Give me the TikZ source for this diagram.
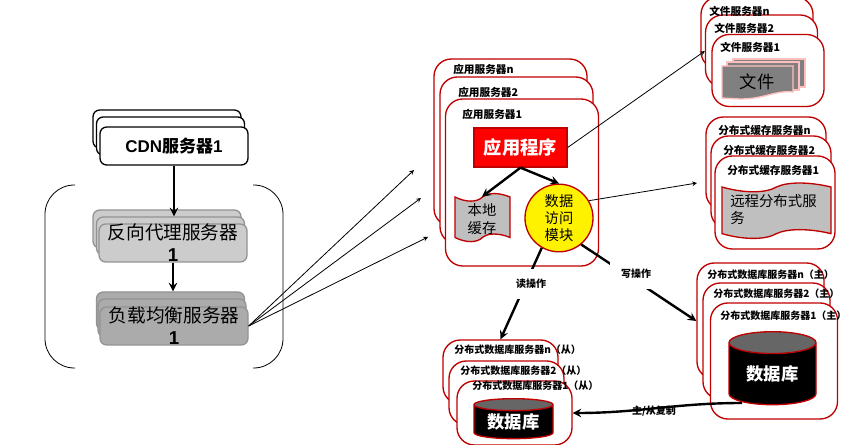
\documentclass[tikz,border=0pt]{standalone}
\usepackage{fontspec}
\setmainfont{Noto Sans CJK SC}
\newfontfamily\latinfont{Liberation Sans}
\usetikzlibrary{shapes.geometric}
\definecolor{srvred}{HTML}{C00000}
\tikzset{
  boxsize/.style 2 args={minimum width=#1*0.75pt,minimum height=#2*0.75pt,inner sep=0pt},
  cdnbox/.style={draw=black,line width=1pt,fill=white,rounded corners=5pt,boxsize={148}{38}},
  proxybox/.style={draw=gray!85,line width=1pt,fill=black!20,rounded corners=5pt,boxsize={148}{38},align=center,font=\fontsize{14}{16.5}\selectfont},
  lbbox/.style={draw=gray!85,line width=1pt,fill=black!33,rounded corners=5pt,boxsize={148}{38},align=center,font=\fontsize{14}{16.5}\selectfont},
  srvbox/.style={draw=srvred,line width=1pt,fill=white,rounded corners=13pt},
  srvlabel/.style={anchor=west,inner sep=0pt,font=\bfseries\fontsize{8}{9}\selectfont},
  dblabel/.style={anchor=west,inner sep=0pt,font=\bfseries\fontsize{7.5}{9}\selectfont},
  oplabel/.style={fill=white,inner sep=8pt,font=\bfseries\fontsize{7.5}{9}\selectfont},
  dbcyl/.style={cylinder,shape border rotate=90,draw=srvred,line width=1pt,cylinder uses custom fill,
    cylinder body fill=black,cylinder end fill=black!60,text=white,inner sep=0pt,font=\bfseries\fontsize{13}{15}\selectfont},
  bigarrow/.style={-stealth,line width=1.8pt},
  thinarrow/.style={-stealth,line width=0.6pt},
}
\newcommand{\wavepath}[5]{\draw[#1,shift={(#2,#3)},xscale=#4,yscale=#5] (0,0) .. controls (.2,.12) and (.4,.12) .. (.5,0) .. controls (.6,-.1) and (.8,-.1) .. (1,0) -- (1,.88) .. controls (.8,.78) and (.6,.78) .. (.5,.88) .. controls (.4,1) and (.2,1) .. (0,.88) -- cycle;}
\begin{document}
\begin{tikzpicture}[x=0.75pt,y=-0.75pt]
  \useasboundingbox (0,0) rectangle (865,445);
  % left part
  \draw[line width=0.6pt,rounded corners=22pt] (75,185) -- (45,185) -- (45,368) -- (75,368);
  \draw[line width=0.6pt,rounded corners=22pt] (253,185) -- (283,185) -- (283,368) -- (253,368);
  \foreach \nm/\cx/\cy in {cdnB/167/129,cdnM/170.5/136}
    \node (\nm) [cdnbox] at (\cx,\cy) {};
  \node (cdnF) [cdnbox,font=\bfseries\fontsize{12.75}{15}\selectfont] at (174,146) {{\latinfont CDN}服务器{\latinfont 1}};
  \foreach \nm/\cx/\cy in {proxyB/167/229,proxyM/170.5/236}
    \node (\nm) [proxybox] at (\cx,\cy) {};
  \node (proxyF) [proxybox] at (173,243) {反向代理服务器\\{\latinfont\bfseries 1}};
  \foreach \nm/\cx/\cy in {lbB/170.5/311,lbM/172/318}
    \node (\nm) [lbbox] at (\cx,\cy) {};
  \node (lbF) [lbbox] at (174,326) {负载均衡服务器\\{\latinfont\bfseries 1}};

  % application servers
  \foreach \nm/\cx/\cy in {appN/510.5/142.5,appM/516.5/160.5,appF/522/182.5}
    \node (\nm) [srvbox,boxsize={153}{167}] at (\cx,\cy) {};
  \node (appNl) [srvlabel] at (453,69) {应用服务器n};
  \node (appMl) [srvlabel] at (458,92) {应用服务器2};
  \node (appFl) [srvlabel] at (462,114) {应用服务器1};
  \node (prog) [draw=srvred,line width=1pt,fill=red,text=white,boxsize={93}{39},font=\bfseries\fontsize{13.7}{16}\selectfont] at (520.5,147.5) {应用程序};
  \wavepath{draw=srvred,line width=1pt,fill=black!25}{455}{197}{55}{46}
  \node (local) [boxsize={55}{44},align=center,font=\fontsize{10.7}{13}\selectfont] at (482,219) {本地\\缓存};
  \node (data) [ellipse,draw=srvred,line width=1pt,fill=yellow,boxsize={68}{54},align=center,font=\fontsize{10.7}{13}\selectfont] at (559,218) {数据\\访问\\模块};

  % file servers
  \foreach \nm/\cx/\cy in {fileN/757/33,fileM/761.5/51,fileF/768/70.5}
    \node (\nm) [srvbox,boxsize={112}{72}] at (\cx,\cy) {};
  \node (fileNl) [srvlabel] at (709,11) {文件服务器n};
  \node (fileMl) [srvlabel] at (714,28) {文件服务器2};
  \node (fileFl) [srvlabel] at (720,47) {文件服务器1};
  \draw[draw=red!25,line width=1pt,fill=black!50] (733,59) rectangle (805,87);
  \draw[draw=red!25,line width=1pt,fill=black!50] (727,62) rectangle (799,90);
  \draw[draw=red!25,line width=1pt,fill=black!50] (722,66) -- (793,66) -- (793,92) .. controls (775,90) and (765,99) .. (740,99) -- (722,98) -- cycle;
  \node (doc) [boxsize={71}{33},font=\fontsize{13}{15}\selectfont] at (757,82) {文件};

  % cache servers
  \foreach \nm/\cx/\cy in {cacheN/766/163.5,cacheM/771/182.5,cacheF/775/202.5}
    \node (\nm) [srvbox,boxsize={120}{93}] at (\cx,\cy) {};
  \node (cacheNl) [srvlabel] at (718,130) {分布式缓存服务器n};
  \node (cacheMl) [srvlabel] at (723,150) {分布式缓存服务器2};
  \node (cacheFl) [srvlabel] at (727,170) {分布式缓存服务器1};
  \wavepath{draw=srvred,line width=1pt,fill=black!25}{722}{187}{109}{53}
  \node (remote) [anchor=north west,inner sep=0pt,align=left,font=\fontsize{10.8}{12.8}\selectfont] at (730,194) {远程分布式服\\务};

  % master databases
  \foreach \nm/\cx/\cy in {dbmN/760.5/321,dbmM/766.5/341,dbmF/774/361}
    \node (\nm) [srvbox,boxsize={127}{116}] at (\cx,\cy) {};
  \node (dbmNl) [dblabel] at (707,275) {分布式数据库服务器n（主）};
  \node (dbmMl) [dblabel] at (713,294) {分布式数据库服务器2（主）};
  \node (dbmFl) [dblabel] at (720,316) {分布式数据库服务器1（主）};
  \node (cylM) [dbcyl,minimum height=73*0.75pt,minimum width=87*0.75pt,aspect=0.42] at (772.5,374) {数据库};

  % slave databases
  \foreach \nm/\cx/\cy in {dbsN/500.5/372,dbsM/506.5/393,dbsF/514.5/413}
    \node (\nm) [srvbox,boxsize={115}{64}] at (\cx,\cy) {};
  \node (dbsNl) [dblabel] at (454,350) {分布式数据库服务器n（从）};
  \node (dbsMl) [dblabel] at (460,371) {分布式数据库服务器2（从）};
  \node (dbsFl) [dblabel] at (472,386) {分布式数据库服务器1（从）};
  \node (cylS) [dbcyl,minimum height=40*0.75pt,minimum width=79*0.75pt,aspect=0.23] at (513.5,422) {数据库};

  % connectors
  \coordinate (appIn1) at (414,170);
  \coordinate (appIn2) at (421,198);
  \coordinate (appIn3) at (428,237);
  \coordinate (cacheIn) at (697,183);
  \coordinate (replOut) at (742,403);
  \path[bigarrow]
    (cdnF.south) edge (cdnF.south |- proxyM.north)
    (proxyF.south) edge (proxyF.south |- lbB.north)
    (prog.south) edge (local.north)
    (prog.south) edge (data.north)
    (data.240) edge (dbsN.north)
    (data.-50) edge (dbmN.west)
    (replOut) edge [out=180,in=0] (dbsF.east);
  \path[thinarrow]
    (lbF.east) edge (appIn1)
    (lbF.east) edge (appIn2)
    (lbF.east) edge (appIn3)
    (prog.east) edge (fileM.west)
    (data.30) edge (cacheIn);
  \node (readop) [oplabel] at (531,284) {读操作};
  \node (writeop) [oplabel] at (636,274) {写操作};
  \node (replop) [inner sep=0pt,font=\bfseries\fontsize{7.5}{9}\selectfont] at (654,411) {主/从复制};
\end{tikzpicture}
\end{document}
